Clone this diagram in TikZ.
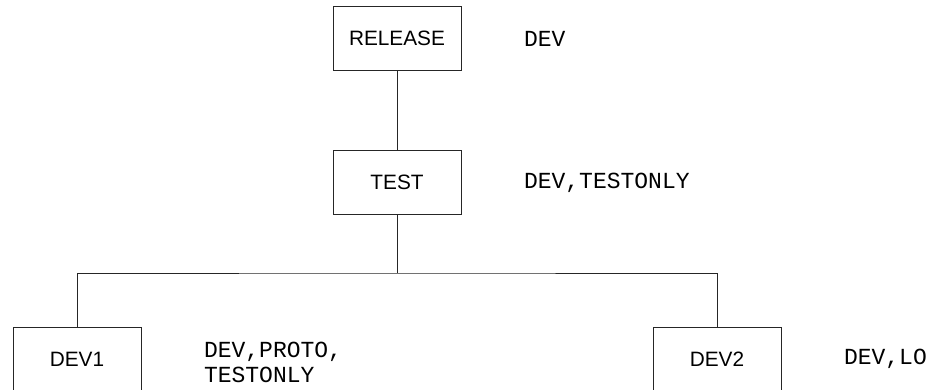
\documentclass[tikz,border=0pt]{standalone}
\usepackage{fontspec}
\setmainfont{Liberation Sans}
\newfontfamily\tagfont{Liberation Mono}
\usetikzlibrary{calc}
\usetikzlibrary{positioning}

\begin{document}
\begin{tikzpicture}[x=0.5pt, y=-0.5pt, line width=0.5pt,
    wire/.style={draw=black!85},
    level/.style={
      draw=black!85, inner sep=0, minimum width=64pt, minimum height=32pt,
      font=\fontsize{10.4}{12}\selectfont
    },
    tags/.style={
      inner sep=0, align=left,
      font=\tagfont\fontsize{11.5}{12.5}\selectfont
    }
  ]
  \clip (0,0) rectangle (931,390);
  \useasboundingbox (0,0) rectangle (931,390);

  \node[level] (release) at (397,38.5) {RELEASE};
  \node[level, below=39.5pt of release] (test) {TEST};
  \node[level] (dev1) at (77,359) {DEV1};
  \node[level] (dev2) at (717,359) {DEV2};

  \node[tags, right=31pt of release] (release_tags) {DEV};
  \node[tags, right=31pt of test] (test_tags) {DEV,TESTONLY};
  \node[tags, right=31pt of dev1, yshift=-1.75pt] (dev1_tags) {DEV,PROTO,\\TESTONLY};
  \node[tags, right=31pt of dev2] (dev2_tags) {DEV,LO};

  \coordinate (bus) at ($(test.south)+(0,58)$);

  \draw[wire] (release) -- (test);
  \draw[wire] (test) -- (bus);
  \draw[wire] (dev1.north) |- (bus) -| (dev2.north);
\end{tikzpicture}
\end{document}
